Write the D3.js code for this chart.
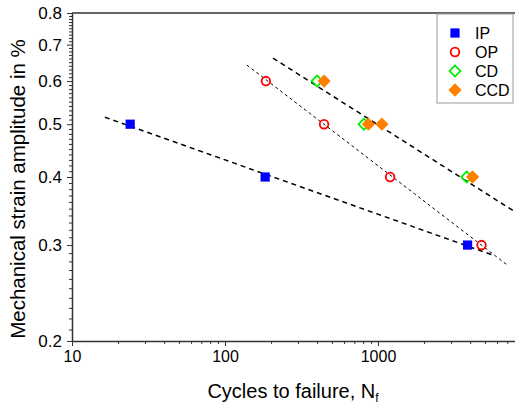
<!DOCTYPE html>
<html>
<head>
<meta charset="utf-8">
<script src="https://cdn.jsdelivr.net/npm/d3@7"></script>
<style>
  body { margin: 0; background: #fff; }
  text { font-family: Arial, "Liberation Sans", sans-serif; fill: #000; }
</style>
</head>
<body>
<script>
const WIDTH = 515;
const HEIGHT = 406;
const LEFT = 72;
const TOP = 13;
const BOTTOM = 341;
const RIGHT = 531;   // 10000 sits just past the window edge

// data: cycles to failure vs strain amplitude (%)
const ipCycles = [24, 183, 3850];
const ipStrain = [0.5, 0.4, 0.3];
const opCycles = [185, 444, 1200, 4750];
const opStrain = [0.6, 0.5, 0.4, 0.3];
const cdCycles = [400, 810, 3800];
const cdStrain = [0.6, 0.5, 0.4];
const ccdCycles = [444, 865, 1060, 4150];
const ccdStrain = [0.6, 0.5, 0.5, 0.4];

// dashed fit lines, start and end points
const ipFitCycles = [16.4, 5560];
const ipFitStrain = [0.515, 0.288];
const opFitCycles = [139, 6970];
const opFitStrain = [0.642, 0.276];
const cdFitCycles = [206, 9000];
const cdFitStrain = [0.661, 0.337];

const xTickLabels = [10, 100, 1000];
const yTickLabels = [0.2, 0.3, 0.4, 0.5, 0.6, 0.7, 0.8];
const legendNames = ['IP', 'OP', 'CD', 'CCD'];

const x = d3.scaleLog().domain([10, 10000]).range([LEFT, RIGHT]);
const y = d3.scaleLog().domain([0.2, 0.8]).range([BOTTOM, TOP]);

const svg = d3.select('body')
    .append('svg')
    .attr('width', WIDTH)
    .attr('height', HEIGHT);

svg.append('rect')
    .attr('width', WIDTH)
    .attr('height', HEIGHT)
    .attr('fill', '#fff');

// top frame line
svg.append('line')
    .attr('x1', LEFT).attr('x2', RIGHT)
    .attr('y1', TOP).attr('y2', TOP)
    .attr('stroke', '#333')
    .attr('stroke-width', 1.5);

// x axis, major + minor ticks
const xMinor = x.ticks().filter(d => !xTickLabels.includes(d));
svg.append('g')
    .attr('transform', `translate(0, ${BOTTOM})`)
    .call(d3.axisBottom(x).tickValues(xMinor).tickSize(3).tickFormat(''))
    .call(g => g.select('.domain').remove())
    .selectAll('line').attr('stroke', '#333');

const xAxis = svg.append('g')
    .attr('transform', `translate(0, ${BOTTOM})`)
    .call(d3.axisBottom(x).tickValues(xTickLabels).tickSize(5).tickSizeOuter(0)
        .tickFormat(d3.format('d')).tickPadding(5));
xAxis.select('.domain').attr('stroke', '#333').attr('stroke-width', 1.5);
xAxis.selectAll('line').attr('stroke', '#333');
xAxis.selectAll('text').attr('font-size', 16).attr('fill', '#000');

// y axis, major + minor ticks
const yMinor = d3.range(21, 80).map(d => d / 100).filter(d => Math.round(d * 100) % 10 !== 0);
svg.append('g')
    .attr('transform', `translate(${LEFT}, 0)`)
    .call(d3.axisLeft(y).tickValues(yMinor).tickSize(3).tickFormat(''))
    .call(g => g.select('.domain').remove())
    .selectAll('line').attr('stroke', '#333');

const yAxis = svg.append('g')
    .attr('transform', `translate(${LEFT}, 0)`)
    .call(d3.axisLeft(y).tickValues(yTickLabels).tickSize(5).tickSizeOuter(0)
        .tickFormat(d3.format('.1f')).tickPadding(5));
yAxis.select('.domain').attr('stroke', '#333').attr('stroke-width', 1.5);
yAxis.selectAll('line').attr('stroke', '#333');
yAxis.selectAll('text').attr('font-size', 17).attr('fill', '#000');

// axis titles
const xTitle = svg.append('text')
    .attr('x', 293)
    .attr('y', 398)
    .attr('text-anchor', 'middle')
    .attr('font-size', 20)
    .text('Cycles to failure, N');
xTitle.append('tspan')
    .attr('font-size', 12)
    .attr('dy', 4)
    .text('f');

svg.append('text')
    .attr('transform', `translate(25, 189) rotate(-90)`)
    .attr('text-anchor', 'middle')
    .attr('font-size', 20.5)
    .text('Mechanical strain amplitude in %');

// fit lines
const line = d3.line().x(d => x(d[0])).y(d => y(d[1]));
const fits = [
    { c: ipFitCycles, s: ipFitStrain, w: 1.5, dash: '5,4' },
    { c: opFitCycles, s: opFitStrain, w: 1, dash: '3,3' },
    { c: cdFitCycles, s: cdFitStrain, w: 1.5, dash: '5,4' }
];
fits.forEach(f => {
    svg.append('path')
        .attr('d', line(d3.zip(f.c, f.s)))
        .attr('fill', 'none')
        .attr('stroke', '#000')
        .attr('stroke-width', f.w)
        .attr('stroke-dasharray', f.dash);
});

// markers: squares, and squares turned 45 degrees for diamonds
const square = d3.symbol().type(d3.symbolSquare).size(85);
const diamondOpen = d3.symbol().type(d3.symbolSquare).size(60);
const diamondFull = d3.symbol().type(d3.symbolSquare).size(88);

svg.append('g').selectAll('path')
    .data(d3.zip(ipCycles, ipStrain))
    .join('path')
    .attr('transform', d => `translate(${x(d[0])}, ${y(d[1])})`)
    .attr('d', square())
    .attr('fill', '#0000ff');

svg.append('g').selectAll('path')
    .data(d3.zip(cdCycles, cdStrain))
    .join('path')
    .attr('transform', d => `translate(${x(d[0])}, ${y(d[1])}) rotate(45)`)
    .attr('d', diamondOpen())
    .attr('fill', 'none')
    .attr('stroke', '#00ee00')
    .attr('stroke-width', 1.8);

svg.append('g').selectAll('path')
    .data(d3.zip(ccdCycles, ccdStrain))
    .join('path')
    .attr('transform', d => `translate(${x(d[0])}, ${y(d[1])}) rotate(45)`)
    .attr('d', diamondFull())
    .attr('fill', '#ff8000');

svg.append('g').selectAll('circle')
    .data(d3.zip(opCycles, opStrain))
    .join('circle')
    .attr('cx', d => x(d[0]))
    .attr('cy', d => y(d[1]))
    .attr('r', 4.3)
    .attr('fill', 'none')
    .attr('stroke', '#ff0000')
    .attr('stroke-width', 1.8);

// legend
const legend = svg.append('g').attr('transform', 'translate(437, 14)');
legend.append('rect')
    .attr('width', 76)
    .attr('height', 89)
    .attr('fill', '#fff')
    .attr('stroke', '#999')
    .attr('stroke-width', 1);

const rows = legend.selectAll('g.row')
    .data(legendNames)
    .join('g')
    .attr('class', 'row')
    .attr('transform', (d, i) => `translate(18, ${19 + i * 19})`);

rows.filter((d, i) => i === 0).append('path')
    .attr('d', square())
    .attr('fill', '#0000ff');

rows.filter((d, i) => i === 1).append('circle')
    .attr('r', 4.3)
    .attr('fill', 'none')
    .attr('stroke', '#ff0000')
    .attr('stroke-width', 1.8);

rows.filter((d, i) => i === 2).append('path')
    .attr('transform', 'rotate(45)')
    .attr('d', diamondOpen())
    .attr('fill', 'none')
    .attr('stroke', '#00ee00')
    .attr('stroke-width', 1.8);

rows.filter((d, i) => i === 3).append('path')
    .attr('transform', 'rotate(45)')
    .attr('d', diamondFull())
    .attr('fill', '#ff8000');

rows.append('text')
    .attr('x', 20)
    .attr('dy', '0.35em')
    .attr('font-size', 16)
    .text(d => d);
</script>
</body>
</html>
